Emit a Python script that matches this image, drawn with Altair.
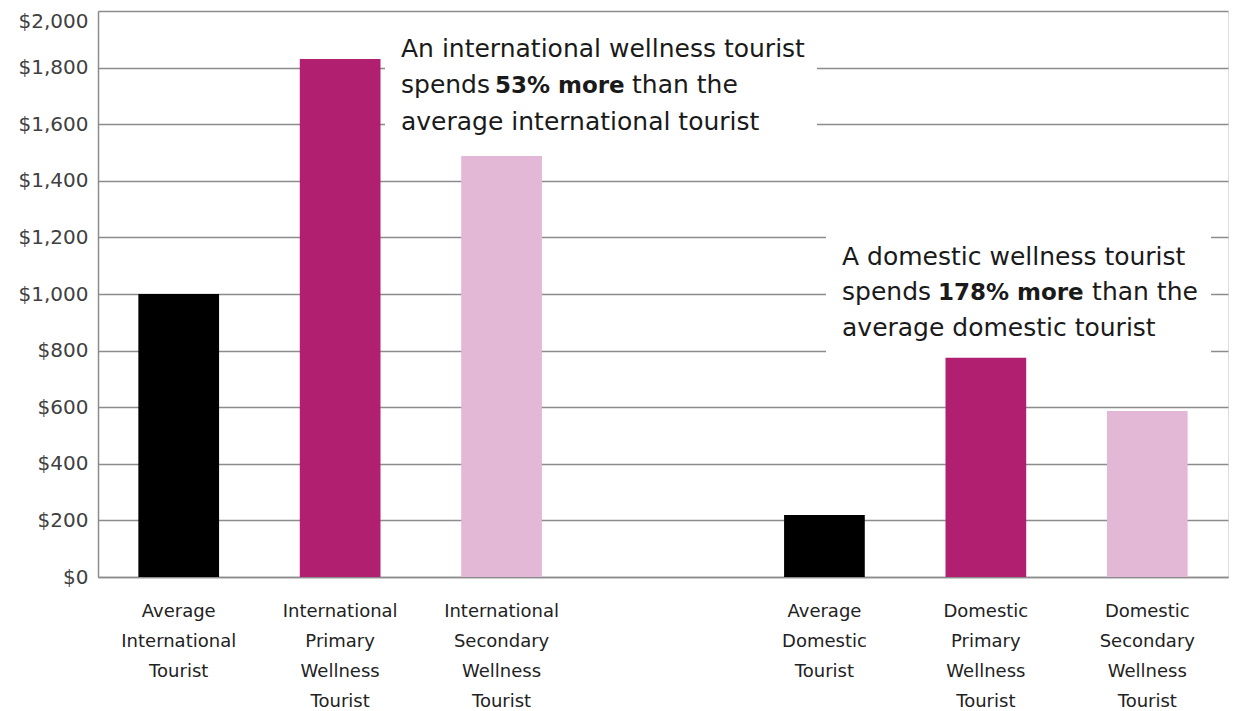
import altair as alt
import pandas as pd

# ---- data ----
categories = [
    "Average|International|Tourist",
    "International|Primary|Wellness|Tourist",
    "International|Secondary|Wellness|Tourist",
    " ",
    "Average|Domestic|Tourist",
    "Domestic|Primary|Wellness|Tourist",
    "Domestic|Secondary|Wellness|Tourist",
]
spend = [1000, 1830, 1488, None, 219, 775, 587]
kinds = ["Average", "Primary", "Secondary", None, "Average", "Primary", "Secondary"]

kind_names = ["Average", "Primary", "Secondary"]
kind_colors = ["#000000", "#B11F71", "#E3B7D6"]

# annotation text segments
ann_text = [
    "An international wellness tourist", "spends", "53% more", "than the",
    "average international tourist",
    "A domestic wellness tourist", "spends", "178% more", "than the",
    "average domestic tourist",
]
ann_bold = [False, False, True, False, False, False, False, True, False, False]
ann_x = [1.877, 1.877, 2.459, 3.308, 1.877, 4.609, 4.609, 5.203, 6.158, 4.609]
ann_y = [1837, 1710, 1710, 1710, 1580, 1102, 979, 979, 979, 852]

box_x = [1.778, 4.510]
box_x2 = [4.454, 6.895]
box_y = [1450, 785]
box_y2 = [1950, 1240]

FONT = "DejaVu Sans"

bars_df = pd.DataFrame({"cat": categories, "spend": spend, "kind": kinds}).dropna()
ann_df = pd.DataFrame({"x": ann_x, "y": ann_y, "text": ann_text, "bold": ann_bold})
box_df = pd.DataFrame({"x": box_x, "x2": box_x2, "y": box_y, "y2": box_y2})

yscale = alt.Scale(domain=[0, 2000], nice=False)
xq = alt.Scale(domain=[0, 7], nice=False, zero=False)
yaxis = alt.Axis(
    title=None, values=list(range(0, 2001, 200)), format="$,.0f",
    ticks=False, labelFontSize=20, labelColor="#404040", labelPadding=10,
    labelFont=FONT, grid=True, gridColor="#8c8c8c", gridWidth=1.5,
    domainColor="#8c8c8c", domainWidth=1.5,
    labelOffset={"condition": {"test": "datum.value == 2000", "value": 10}, "value": 0},
)

boxes = alt.Chart(box_df).mark_rect(color="white").encode(
    x=alt.X("x:Q", scale=xq, axis=None),
    x2="x2:Q",
    y=alt.Y("y:Q", scale=yscale, axis=yaxis),
    y2="y2:Q",
)

bars = alt.Chart(bars_df).mark_bar().encode(
    x=alt.X(
        "cat:N",
        sort=categories,
        scale=alt.Scale(domain=categories, paddingInner=0.5, paddingOuter=0.25),
        axis=alt.Axis(
            title=None, labelAngle=0, ticks=False, grid=False,
            labelExpr="split(datum.value, '|')",
            labelFontSize=18, labelLineHeight=30, labelColor="#222222",
            labelPadding=25, labelBaseline="top", labelFont=FONT,
            domainColor="#8c8c8c", domainWidth=1.5,
        ),
    ),
    y=alt.Y("spend:Q", scale=yscale, axis=yaxis),
    color=alt.Color("kind:N", scale=alt.Scale(domain=kind_names, range=kind_colors), legend=None),
)

def text_layer(bold):
    return alt.Chart(ann_df).transform_filter(
        alt.datum.bold if bold else ~alt.datum.bold
    ).mark_text(
        align="left", baseline="alphabetic", fontSize=23 if bold else 25, font=FONT,
        fontWeight="bold" if bold else "normal", color="#1a1a1a",
    ).encode(
        x=alt.X("x:Q", scale=xq, axis=None),
        y=alt.Y("y:Q", scale=yscale, axis=yaxis),
        text="text:N",
    )

chart = alt.layer(boxes, bars, text_layer(False), text_layer(True)).resolve_scale(
    x="independent"
).properties(
    width=1130, height=566,
    autosize=alt.AutoSizeParams(type="none"),
    padding={"left": 90, "top": 3, "right": 2, "bottom": 140},
).configure_view(strokeWidth=0).configure(font=FONT)

chart.save("out.html", embed_options={"renderer": "svg", "actions": False})
